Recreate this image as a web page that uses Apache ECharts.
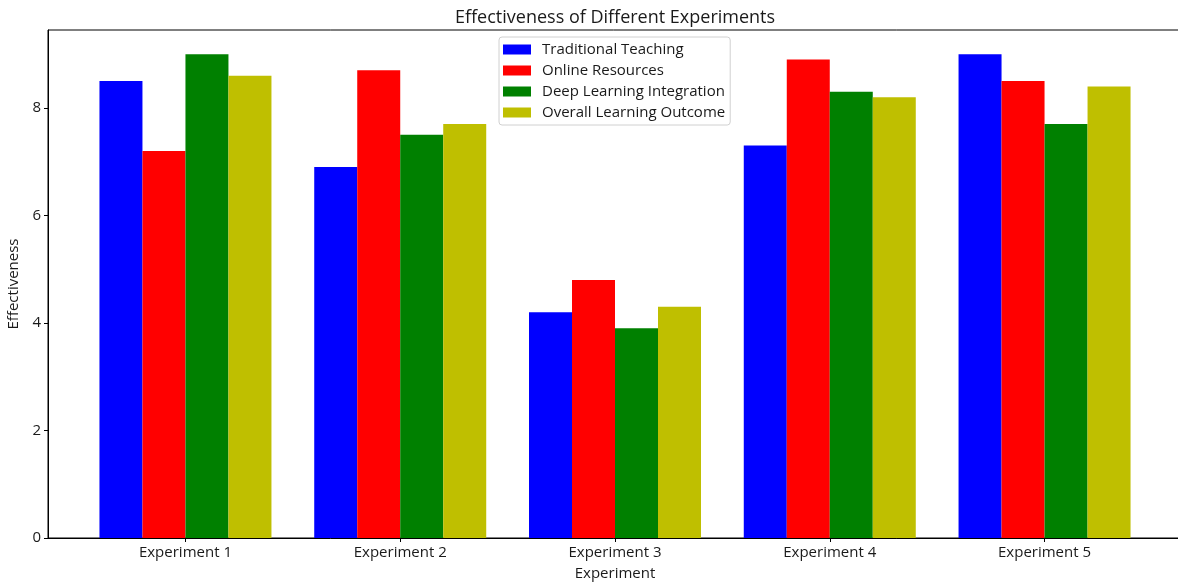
<!DOCTYPE html>
<html><head><meta charset="utf-8">
<script src="https://cdn.jsdelivr.net/npm/echarts@6/dist/echarts.min.js"></script>
<style>html,body{margin:0;padding:0;background:#fff}#c{width:1178px;height:583px}</style>
</head><body><div id="c"></div>
<script>
const categories = ['Experiment 1','Experiment 2','Experiment 3','Experiment 4','Experiment 5'];
const seriesNames = ['Traditional Teaching','Online Resources','Deep Learning Integration','Overall Learning Outcome'];
const traditional = [8.5, 6.9, 4.2, 7.3, 9.0];
const online = [7.2, 8.7, 4.8, 8.9, 8.5];
const deepLearning = [9.0, 7.5, 3.9, 8.3, 7.7];
const overall = [8.6, 7.7, 4.3, 8.2, 8.4];
const yTicks = [0, 2, 4, 6, 8];
const colors = ['#0000ff','#ff0000','#008000','#bfbf00'];
const allData = [traditional, online, deepLearning, overall];

const font = 'Open Sans';
const txt = '#1a1a1a';
const chart = echarts.init(document.getElementById('c'), null, {renderer:'canvas'});
chart.setOption({
  animation: false,
  backgroundColor: '#fff',
  title: {
    text: 'Effectiveness of Different Experiments',
    left: 450, top: 4,
    textStyle: {fontFamily: font, fontSize: 18, fontWeight: 'normal', color: txt}
  },
  legend: {
    orient: 'vertical', left: 499, top: 37,
    data: seriesNames,
    itemWidth: 28, itemHeight: 10, itemGap: 6,
    padding: [5, 5, 5, 4],
    backgroundColor: '#fff', borderColor: '#d0d0d0', borderWidth: 1, borderRadius: 3,
    icon: 'rect',
    textStyle: {fontFamily: font, fontSize: 15, color: txt, lineHeight: 15, padding: [0, 0, 0, 6]}
  },
  grid: {left: 48, top: 30, width: 1134, height: 508, show: true, borderColor: '#000', borderWidth: 1,
    containLabel: false, outerBoundsMode: 'none'},
  xAxis: {
    type: 'value', min: -0.64, max: 4.64,
    name: 'Experiment', nameLocation: 'middle', nameGap: 28,
    nameTextStyle: {fontFamily: font, fontSize: 15, color: txt},
    axisLine: {show: true, onZero: false, lineStyle: {color: '#000'}},
    axisTick: {show: true, customValues: [0,1,2,3,4], length: 4, lineStyle: {color: '#000'}},
    axisLabel: {customValues: [0,1,2,3,4], formatter: v => categories[Math.round(v)] || '',
      fontFamily: font, fontSize: 15, color: txt, margin: 7},
    splitLine: {show: false}
  },
  yAxis: {
    type: 'value', min: 0, max: 9.45,
    name: 'Effectiveness', nameLocation: 'middle', nameGap: 25,
    nameTextStyle: {fontFamily: font, fontSize: 15, color: txt},
    axisLine: {show: true, onZero: false, lineStyle: {color: '#000'}},
    axisTick: {show: true, customValues: yTicks, length: 4, lineStyle: {color: '#000'}},
    axisLabel: {customValues: yTicks, fontFamily: font, fontSize: 15, color: txt, margin: 7},
    splitLine: {show: false}
  },
  series: seriesNames.map((n, i) => ({
    name: n, type: 'bar',
    data: allData[i].map((v, j) => [j, v]),
    barWidth: 43, barGap: '0%',
    itemStyle: {color: colors[i]}
  }))
});
</script></body></html>
